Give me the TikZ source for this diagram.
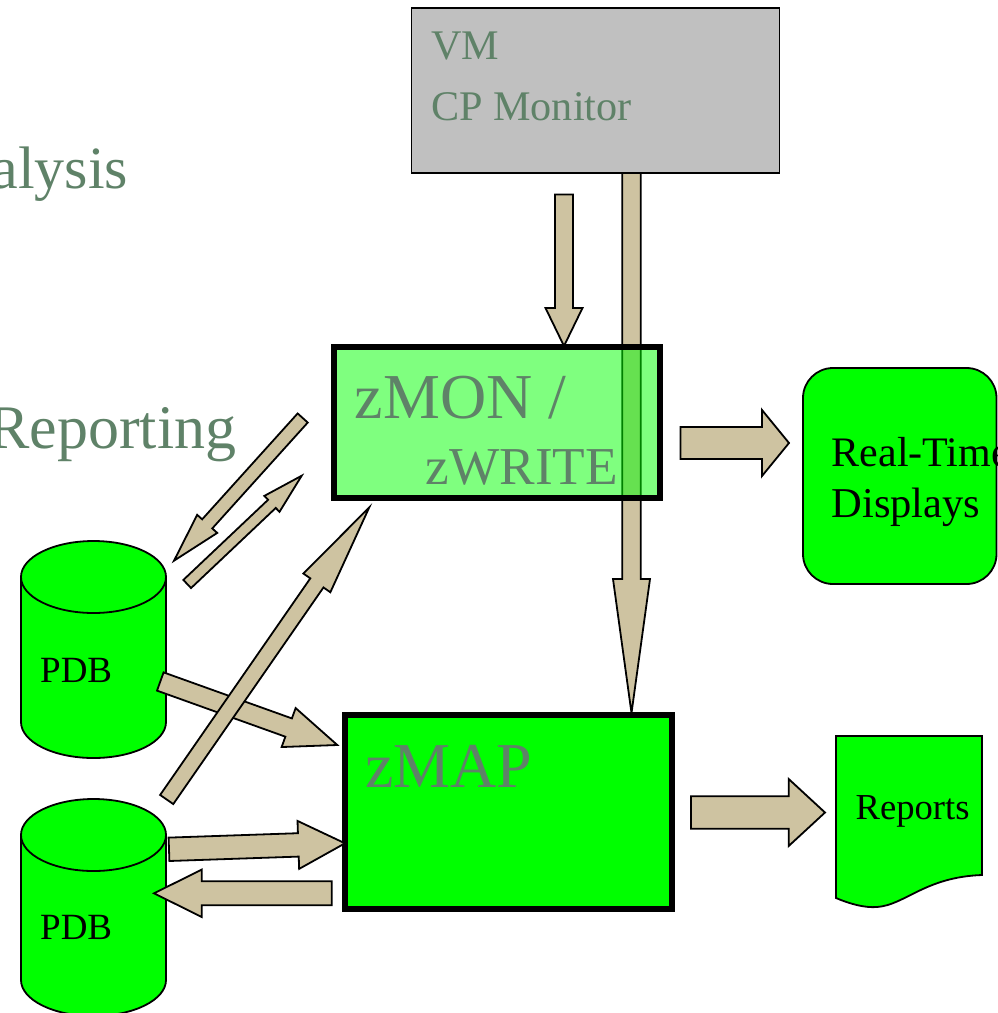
\documentclass[tikz,border=0pt]{standalone}
\usepackage{fontspec}
\setmainfont{Liberation Serif}
\usetikzlibrary{calc}
\definecolor{tan}{HTML}{CEC3A1}
\definecolor{slate}{HTML}{5F8268}
\definecolor{vivid}{HTML}{00FF00}
\definecolor{silver}{HTML}{C0C0C0}
\tikzset{
  blockarrow/.style={draw=black,fill=tan,line width=1.8pt,line join=miter,miter limit=10},
  shapeline/.style={draw=black,fill=vivid,line width=1.8pt},
  heavybox/.style={draw=black,line width=6pt,inner sep=0pt,minimum width=#1},
  label/.style={inner sep=0pt,anchor=base west,text=#1},
  label/.default=black
}
% from, to, half shaft, half head, head length
\newcommand\blockarrow[5]{%
  \coordinate (ah) at ($(#2)!#5pt!(#1)$);
  \path[blockarrow] ($(#1)!#3pt!90:(#2)$) -- ($(ah)!#3pt!-90:(#1)$) -- ($(ah)!#4pt!-90:(#1)$)
    -- (#2) -- ($(ah)!#4pt!90:(#1)$) -- ($(ah)!#3pt!90:(#1)$) -- ($(#1)!#3pt!-90:(#2)$) -- cycle;
}
% cylinder: left x, right x, top-ellipse centre y, bottom-edge y
\newcommand\drum[4]{%
  \path[shapeline] (#1,#3) -- (#1,#4) arc[start angle=180,end angle=360,x radius=72.5pt,y radius=36pt]
    -- (#2,#3) arc[start angle=0,end angle=180,x radius=72.5pt,y radius=36pt] -- cycle;
  \draw[line width=1.8pt] (#1,#3) arc[start angle=180,end angle=360,x radius=72.5pt,y radius=36pt];
}
\begin{document}
\begin{tikzpicture}[x=1pt,y=-1pt]
\useasboundingbox (0,0) rectangle (997,1013);

\node[label=slate,font=\fontsize{60}{60}\selectfont,anchor=base east] (analysis) at (128.5,188) {alysis};
\node[label=slate,font=\fontsize{62}{62}\selectfont,anchor=base east] (reporting) at (236.5,448) {Reporting};

% long arrow passes under the translucent zMON box
\coordinate (longtail) at (631.5,173);
\coordinate (longtip) at (631.5,713);
\blockarrow{longtail}{longtip}{9.2}{18.5}{134}

\node[draw=black,line width=1.8pt,fill=silver,minimum width=368pt,minimum height=164.5pt,inner sep=0pt] (vm) at (595.5,90.5) {};
\node[label=slate,font=\fontsize{42.2}{42}\selectfont] (vmtext) at (431,59) {VM};
\node[label=slate,font=\fontsize{42.2}{42}\selectfont] (cptext) at (431,120) {CP Monitor};

\coordinate (vmtail) at (564,194.5);
\coordinate (vmtip) at (564,346);
\blockarrow{vmtail}{vmtip}{9}{18.5}{38}

\node[heavybox=326pt,minimum height=151pt,fill=vivid,fill opacity=.5] (zmon) at (497,422) {};
\node[label=slate,font=\fontsize{64}{64}\selectfont] (zmontext) at (354.5,418) {zMON /};
\node[label=slate,font=\fontsize{53.3}{53}\selectfont] (zwrite) at (425.5,484) {zWRITE};

\node[heavybox=327pt,minimum height=194pt,fill=vivid] (zmap) at (508.5,811.5) {};
\node[label=slate,font=\fontsize{64}{64}\selectfont] (zmaptext) at (365,787) {zMAP};

\drum{21}{166}{577}{722}
\node[label,font=\fontsize{37}{37}\selectfont] (pdba) at (40,682) {PDB};
\drum{21}{166}{835}{980}
\node[label,font=\fontsize{37}{37}\selectfont] (pdbb) at (40,939) {PDB};

\path[shapeline,rounded corners=30pt] (803,368) rectangle (996.5,584);
\node[label,font=\fontsize{42}{42}\selectfont] (realtime) at (831.5,466) {Real-Time};
\node[label,font=\fontsize{42.5}{42}\selectfont] (displays) at (831.5,517) {Displays};

\path[shapeline] (836,736) -- (982,736) -- (982,875)
  .. controls (925,877) and (905,905) .. (877,907)
  .. controls (865,908) and (850,904) .. (836,898) -- cycle;
\node[label,font=\fontsize{36.6}{36}\selectfont] (reports) at (855.5,819) {Reports};

\coordinate (a1t) at (302.7,418);   \coordinate (a1h) at (174,560.7);
\blockarrow{a1t}{a1h}{6.8}{13.5}{49.6}
\coordinate (a2t) at (187.2,584);   \coordinate (a2h) at (301.7,475.7);
\blockarrow{a2t}{a2h}{5.6}{11}{41}
\coordinate (a4t) at (160.3,681.5); \coordinate (a4h) at (337.3,745);
\blockarrow{a4t}{a4h}{9.7}{20.7}{51.7}
\coordinate (a3t) at (166.7,799.5); \coordinate (a3h) at (369.3,507.3);
\blockarrow{a3t}{a3h}{8}{16.4}{92}
\coordinate (a5t) at (169,849.3);   \coordinate (a5h) at (345,843.3);
\blockarrow{a5t}{a5h}{11.7}{24}{46.7}
\coordinate (a6t) at (331.7,893.3); \coordinate (a6h) at (154,893.3);
\blockarrow{a6t}{a6h}{12}{23.7}{47.7}
\coordinate (a7t) at (680.5,443);   \coordinate (a7h) at (789,443);
\blockarrow{a7t}{a7h}{16}{33}{27}
\coordinate (a8t) at (691,812.5);   \coordinate (a8h) at (825,812.5);
\blockarrow{a8t}{a8h}{16.3}{33.5}{36.3}
\end{tikzpicture}
\end{document}
